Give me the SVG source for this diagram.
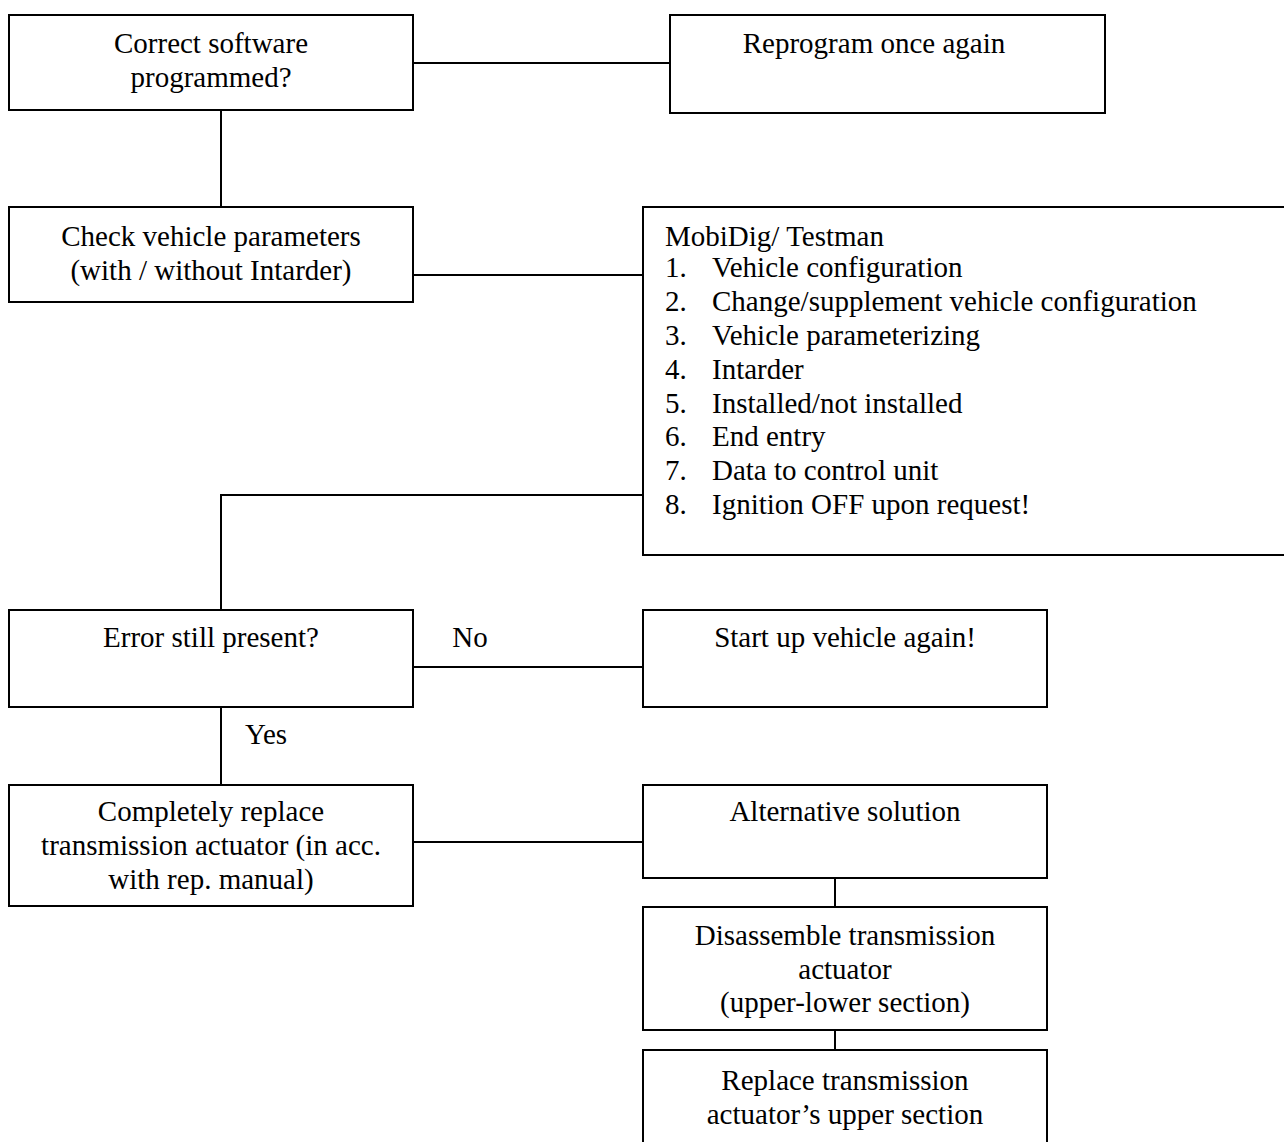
<svg xmlns="http://www.w3.org/2000/svg" width="1284" height="1142" viewBox="0 0 1284 1142">
<style>
.box{fill:#fff;stroke:#000;stroke-width:2}
.ln{fill:none;stroke:#000;stroke-width:2}
text{font-family:"Liberation Serif","Times New Roman",serif;font-size:29px;fill:#000}
.c{text-anchor:middle}
</style>
<rect width="1284" height="1142" fill="#fff"/>
<g id="connectors">
<line class="ln" x1="413" y1="63" x2="670" y2="63"/>
<line class="ln" x1="221" y1="110" x2="221" y2="207"/>
<line class="ln" x1="413" y1="275" x2="643" y2="275"/>
<polyline class="ln" points="643,495 221,495 221,610"/>
<line class="ln" x1="413" y1="667" x2="643" y2="667"/>
<line class="ln" x1="221" y1="707" x2="221" y2="785"/>
<line class="ln" x1="413" y1="842" x2="643" y2="842"/>
<line class="ln" x1="835" y1="878" x2="835" y2="907"/>
<line class="ln" x1="835" y1="1030" x2="835" y2="1050"/>
<text x="470" y="647" class="c">No</text>
<text x="266" y="744" class="c">Yes</text>
</g>
<g id="n1"><rect class="box" x="9" y="15" width="404" height="95"/>
<text x="211" y="53" class="c">Correct software</text><text x="211" y="87" class="c">programmed?</text></g>
<g id="n2"><rect class="box" x="670" y="15" width="435" height="98"/>
<text x="874" y="53" class="c">Reprogram once again</text></g>
<g id="n3"><rect class="box" x="9" y="207" width="404" height="95"/>
<text x="211" y="246" class="c">Check vehicle parameters</text><text x="211" y="280" class="c">(with / without Intarder)</text></g>
<g id="n4"><rect class="box" x="643" y="207" width="660" height="348"/>
<text x="665" y="246">MobiDig/ Testman</text>
<text x="665" y="277">1.</text><text x="712" y="277">Vehicle configuration</text>
<text x="665" y="311">2.</text><text x="712" y="311">Change/supplement vehicle configuration</text>
<text x="665" y="345">3.</text><text x="712" y="345">Vehicle parameterizing</text>
<text x="665" y="379">4.</text><text x="712" y="379">Intarder</text>
<text x="665" y="413">5.</text><text x="712" y="413">Installed/not installed</text>
<text x="665" y="446">6.</text><text x="712" y="446">End entry</text>
<text x="665" y="480">7.</text><text x="712" y="480">Data to control unit</text>
<text x="665" y="514">8.</text><text x="712" y="514">Ignition OFF upon request!</text></g>
<g id="n5"><rect class="box" x="9" y="610" width="404" height="97"/>
<text x="211" y="647" class="c">Error still present?</text></g>
<g id="n6"><rect class="box" x="643" y="610" width="404" height="97"/>
<text x="845" y="647" class="c">Start up vehicle again!</text></g>
<g id="n7"><rect class="box" x="9" y="785" width="404" height="121"/>
<text x="211" y="821" class="c">Completely replace</text><text x="211" y="855" class="c">transmission actuator (in acc.</text><text x="211" y="889" class="c">with rep. manual)</text></g>
<g id="n8"><rect class="box" x="643" y="785" width="404" height="93"/>
<text x="845" y="821" class="c">Alternative solution</text></g>
<g id="n9"><rect class="box" x="643" y="907" width="404" height="123"/>
<text x="845" y="945" class="c">Disassemble transmission</text><text x="845" y="979" class="c">actuator</text><text x="845" y="1012" class="c">(upper-lower section)</text></g>
<g id="n10"><rect class="box" x="643" y="1050" width="404" height="110"/>
<text x="845" y="1090" class="c">Replace transmission</text><text x="845" y="1124" class="c">actuator’s upper section</text></g>
</svg>
